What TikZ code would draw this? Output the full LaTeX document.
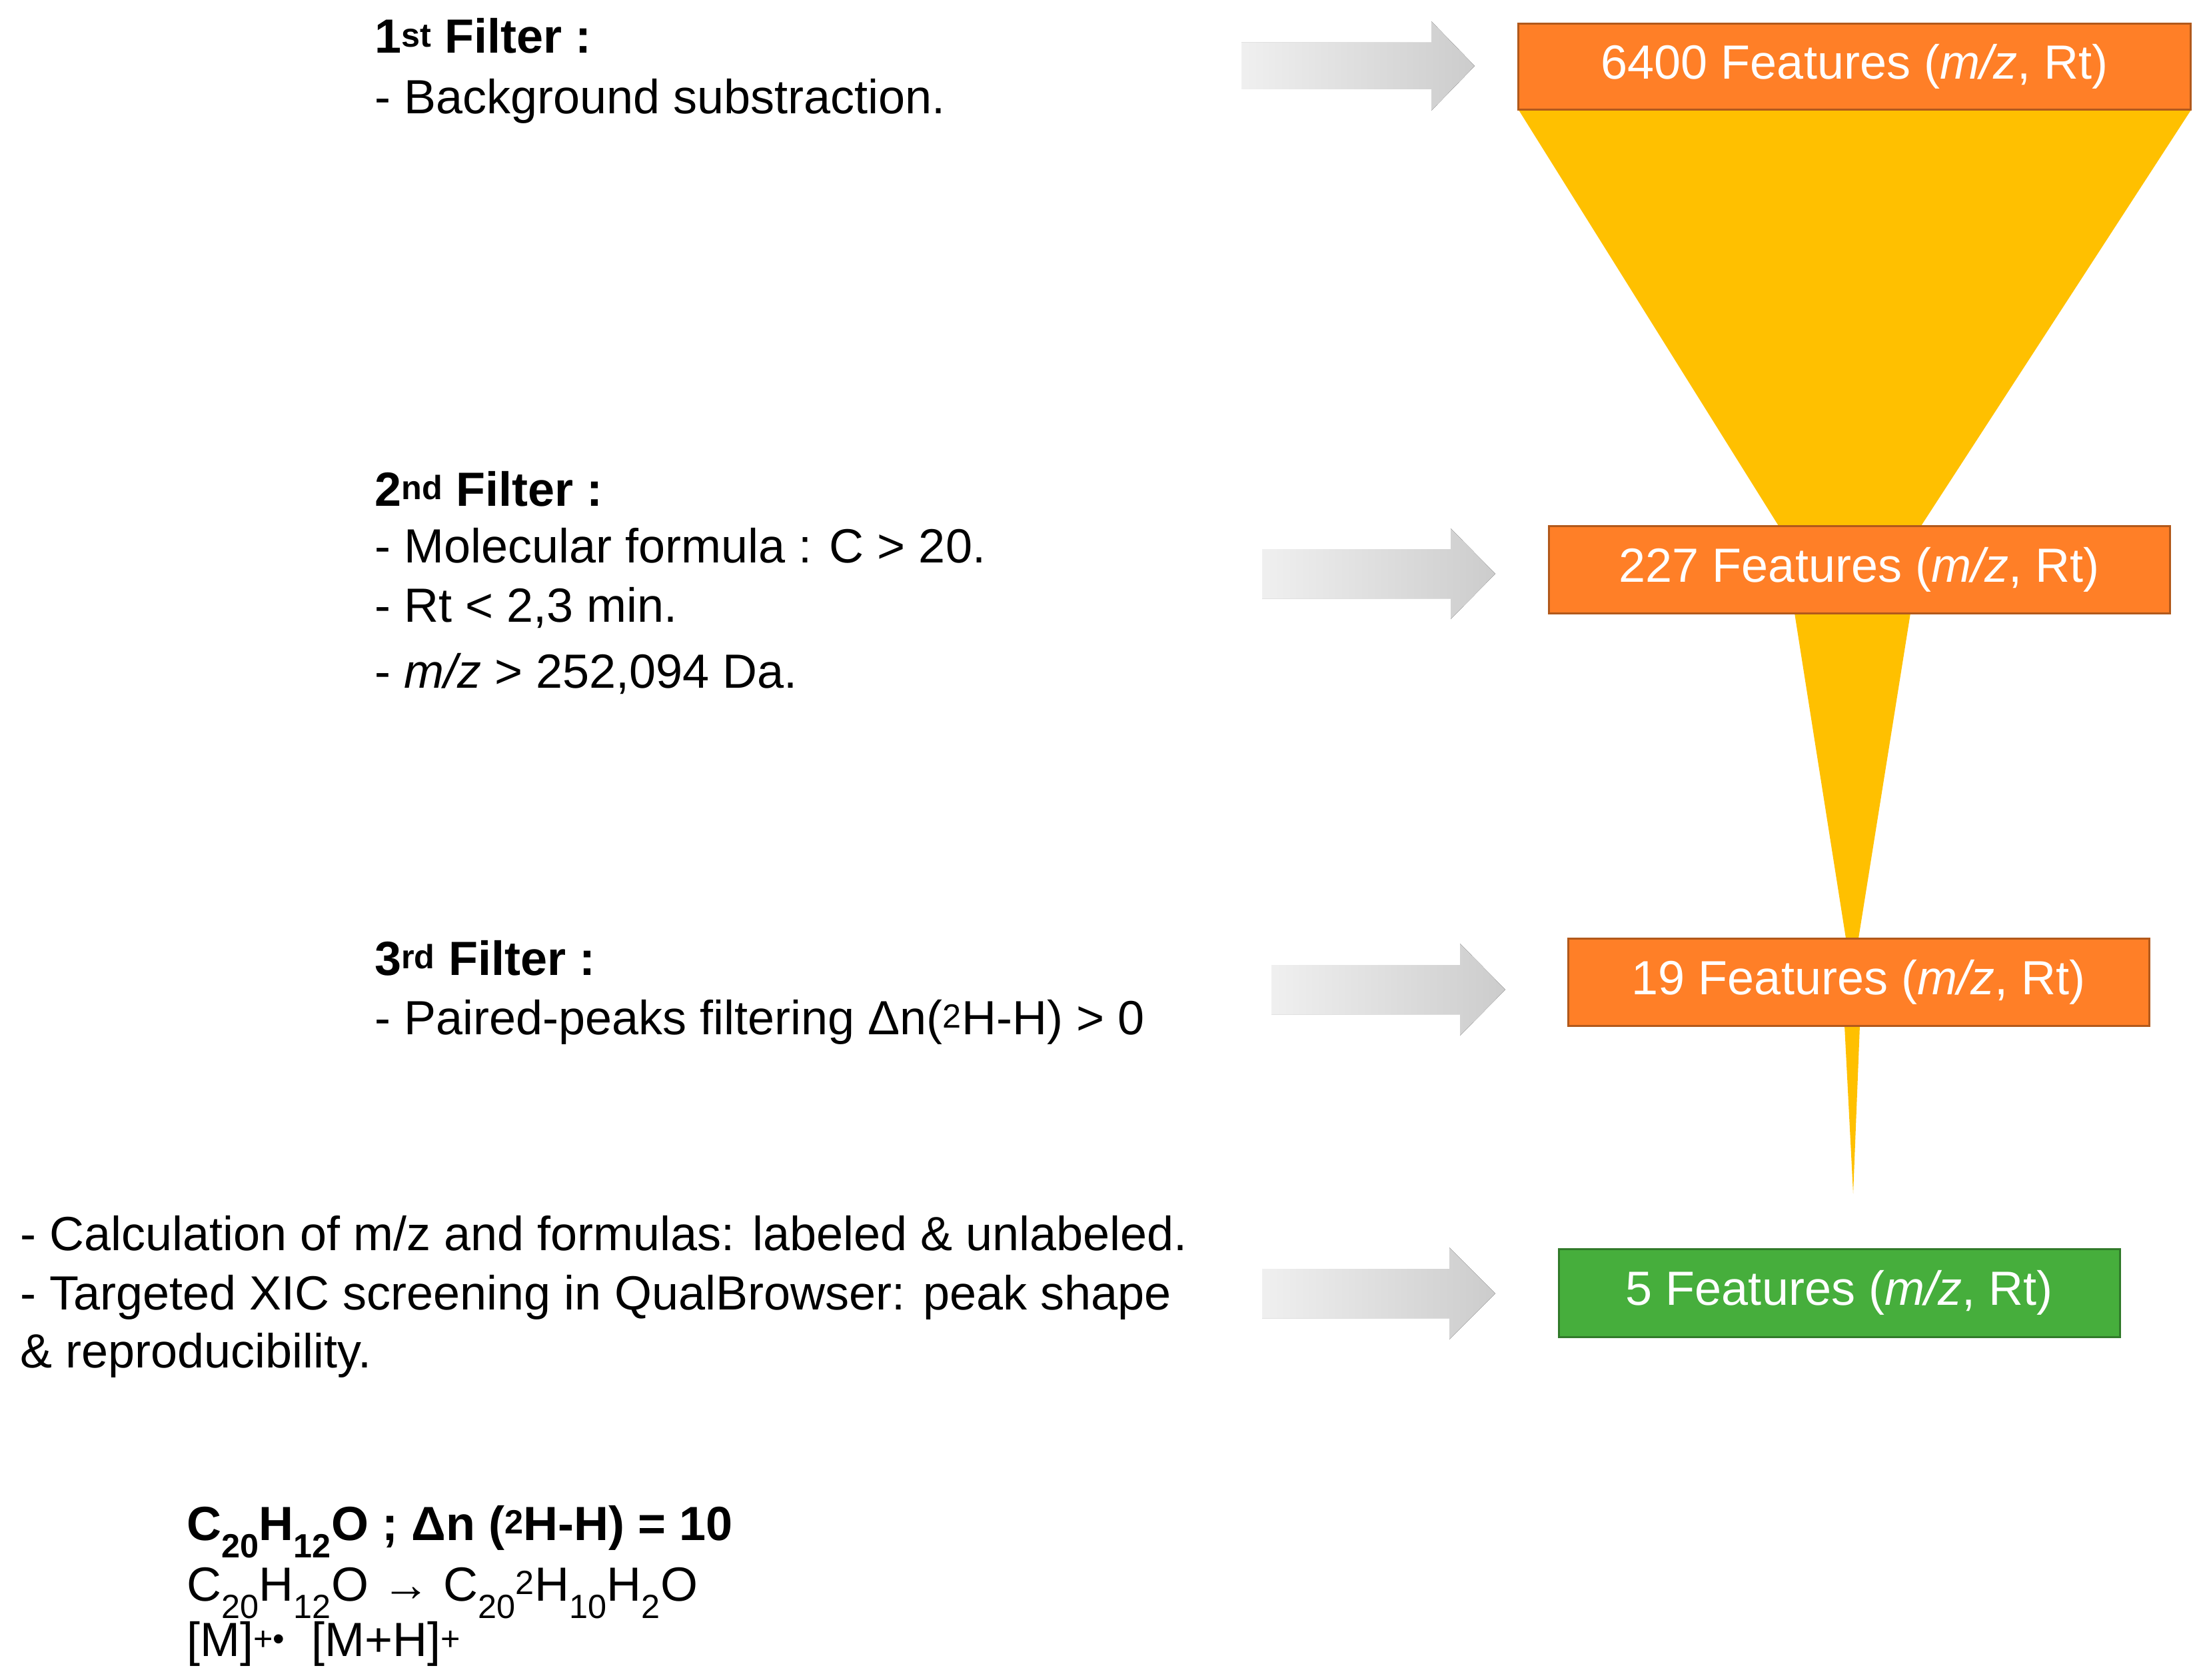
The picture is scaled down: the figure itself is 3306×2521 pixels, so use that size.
\documentclass[tikz,border=0pt]{standalone}
\usepackage{fontspec}
\setmainfont{Liberation Sans}
\begin{document}
\begin{tikzpicture}[x=1pt,y=-1pt,
  txt/.style={anchor=base west,inner sep=0pt,font=\fontsize{72}{86}\selectfont},
  box/.style={draw=#1!70!black,line width=3pt,inner sep=0pt,text=white,font=\fontsize{72}{86}\selectfont},
  garrow/.style={left color=gray!12,right color=gray!40,draw=none}]
\useasboundingbox (0,0) rectangle (3306,2521);
\definecolor{forange}{HTML}{FF7F27}
\definecolor{fyellow}{HTML}{FFC000}
\definecolor{fgreen}{HTML}{46AE3C}
% funnel
\fill[fyellow] (2279,165) -- (3288,165) -- (2883,789) -- (2669,789) -- cycle;
\fill[fyellow] (2693,920) -- (2867,920) -- (2789,1408) -- (2770,1408) -- cycle;
\fill[fyellow] (2768,1539) -- (2791,1539) -- (2781,1791) -- cycle;
% boxes
\node[box=forange,fill=forange,minimum width=1009pt,minimum height=129pt] (b1) at (2783,100) {6400 Features (\textit{m/z}, Rt)};
\node[box=forange,fill=forange,minimum width=932pt,minimum height=131pt] (b2) at (2790,855) {227 Features (\textit{m/z}, Rt)};
\node[box=forange,fill=forange,minimum width=872pt,minimum height=131pt] (b3) at (2789,1474) {19 Features (\textit{m/z}, Rt)};
\node[box=fgreen,fill=fgreen,minimum width=842pt,minimum height=132pt] (b4) at (2760,1940) {5 Features (\textit{m/z}, Rt)};
% arrows
\fill[garrow] (1863,64) -- (2148,64) -- (2148,32) -- (2213,99) -- (2148,166) -- (2148,134) -- (1863,134) -- cycle;
\fill[garrow] (1894,824) -- (2177,824) -- (2177,793) -- (2244,861) -- (2177,929) -- (2177,898) -- (1894,898) -- cycle;
\fill[garrow] (1908,1448) -- (2191,1448) -- (2191,1416) -- (2259,1485) -- (2191,1554) -- (2191,1522) -- (1908,1522) -- cycle;
\fill[garrow] (1894,1904) -- (2175,1904) -- (2175,1872) -- (2244,1941) -- (2175,2010) -- (2175,1978) -- (1894,1978) -- cycle;
% texts
\node[txt] (t1) at (562,80) {\textbf{1\textsuperscript{st} Filter :}};
\node[txt] (t1a) at (562,170) {- Background substraction.};
\node[txt] (t2) at (562,759) {\textbf{2\textsuperscript{nd} Filter :}};
\node[txt] (t2a) at (562,844) {- Molecular formula : C > 20.};
\node[txt] (t2b) at (562,933) {- Rt < 2,3 min.};
\node[txt] (t2c) at (562,1032) {- \textit{m/z} > 252,094 Da.};
\node[txt] (t3) at (562,1463) {\textbf{3\textsuperscript{rd} Filter :}};
\node[txt] (t3a) at (562,1552) {- Paired-peaks filtering Δn(\textsuperscript{2}H-H) > 0};
\node[txt] (t4a) at (30,1876) {- Calculation of m/z and formulas: labeled \& unlabeled.};
\node[txt] (t4b) at (30,1965) {- Targeted XIC screening in QualBrowser: peak shape};
\node[txt] (t4c) at (30,2052) {\& reproducibility.};
\node[txt] (f1) at (280,2311) {\textbf{C\textsubscript{20}H\textsubscript{12}O ; Δn (\textsuperscript{2}H-H) = 10}};
\node[txt] (f2) at (280,2402) {C\textsubscript{20}H\textsubscript{12}O → C\textsubscript{20}\textsuperscript{2}H\textsubscript{10}H\textsubscript{2}O};
\node[txt] (f3) at (280,2485) {[M]\textsuperscript{+•}\ \ [M+H]\textsuperscript{+}};
\end{tikzpicture}
\end{document}
